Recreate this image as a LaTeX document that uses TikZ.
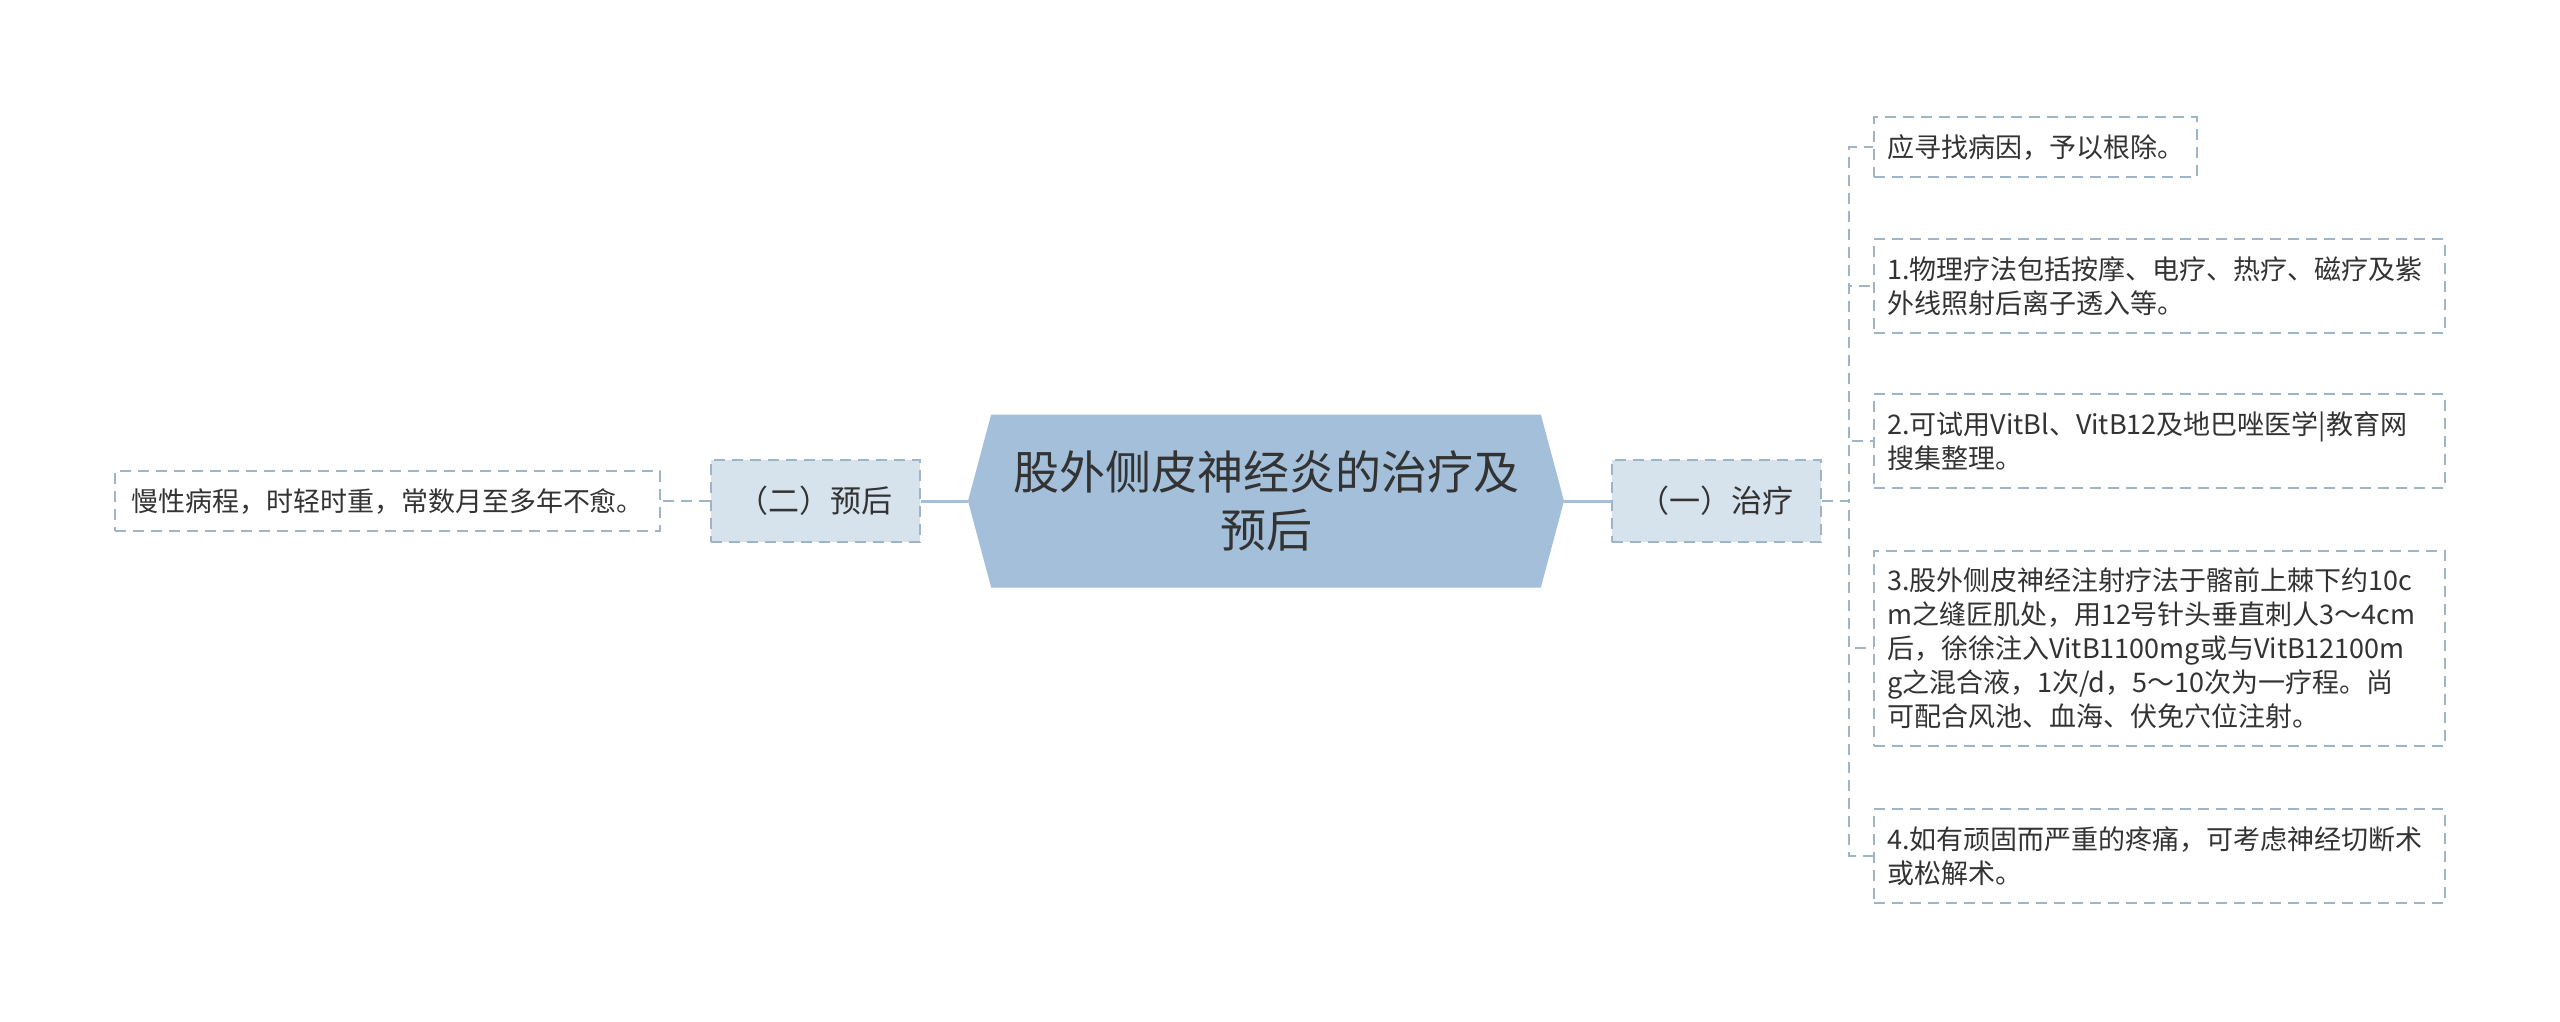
\documentclass[tikz,border=0pt]{standalone}
\usepackage{fontspec}
\setmainfont{Noto Sans CJK SC}
\usetikzlibrary{shapes.symbols}
\definecolor{rootblue}{HTML}{A3BFD9}
\definecolor{subfill}{HTML}{D6E2EC}
\definecolor{dashblue}{HTML}{9FB4C7}
\definecolor{txt}{HTML}{333333}
\begin{document}
\begin{tikzpicture}[x=1pt,y=-1pt,
  root/.style={signal,signal to=east and west,signal pointer angle=150,fill=rootblue,
    minimum width=596pt,minimum height=173pt,inner sep=0pt,align=center,text=txt,
    font=\fontsize{46}{58}\selectfont},
  topic/.style={draw=dashblue,fill=subfill,line width=2pt,dash pattern=on 11pt off 7pt,
    minimum width=209pt,minimum height=82pt,text=txt,font=\fontsize{31}{38}\selectfont},
  leaf/.style={draw=dashblue,line width=2pt,dash pattern=on 11pt off 7pt,align=left,
    inner xsep=13pt,inner ysep=17pt,text=txt,font=\fontsize{27}{34}\selectfont},
  wide/.style={leaf,text width=545pt},
  trunk/.style={rootblue,line width=3pt},
  twig/.style={dashblue,line width=2pt,dash pattern=on 11pt off 7pt}]
\useasboundingbox[fill=white] (0,0) rectangle (2560,1022);
\node[root] (root) at (1266,501) {股外侧皮神经炎的治疗及\\预后};
\node[topic] (prog) at (815,501) {（二）预后};
\node[topic] (treat) at (1716,501) {（一）治疗};
% left side
\node[leaf,anchor=east,inner xsep=16pt] (p1) at (661,501) {慢性病程，时轻时重，常数月至多年不愈。};
% right side
\node[leaf,anchor=west] (t0) at (1873,147) {应寻找病因，予以根除。};
\node[wide,anchor=west] (t1) at (1873,286) {1.物理疗法包括按摩、电疗、热疗、磁疗及紫\\外线照射后离子透入等。};
\node[wide,anchor=west] (t2) at (1873,441) {2.可试用VitBl、VitB12及地巴唑医学|教育网\\搜集整理。};
\node[wide,anchor=west] (t3) at (1873,648) {3.股外侧皮神经注射疗法于髂前上棘下约10c\\m之缝匠肌处，用12号针头垂直刺人3～4cm\\后，徐徐注入VitB1100mg或与VitB12100m\\g之混合液，1次/d，5～10次为一疗程。尚\\可配合风池、血海、伏免穴位注射。};
\node[wide,anchor=west] (t4) at (1873,856) {4.如有顽固而严重的疼痛，可考虑神经切断术\\或松解术。};
\draw[trunk] (root.west) -- (prog.east);
\draw[trunk] (root.east) -- (treat.west);
\draw[twig] (prog.west) -- (p1.east);
\foreach \n in {t0,t1,t2,t3,t4}
  \draw[twig] (treat.east) -- ++(27,0) |- (\n.west);
\end{tikzpicture}
\end{document}
